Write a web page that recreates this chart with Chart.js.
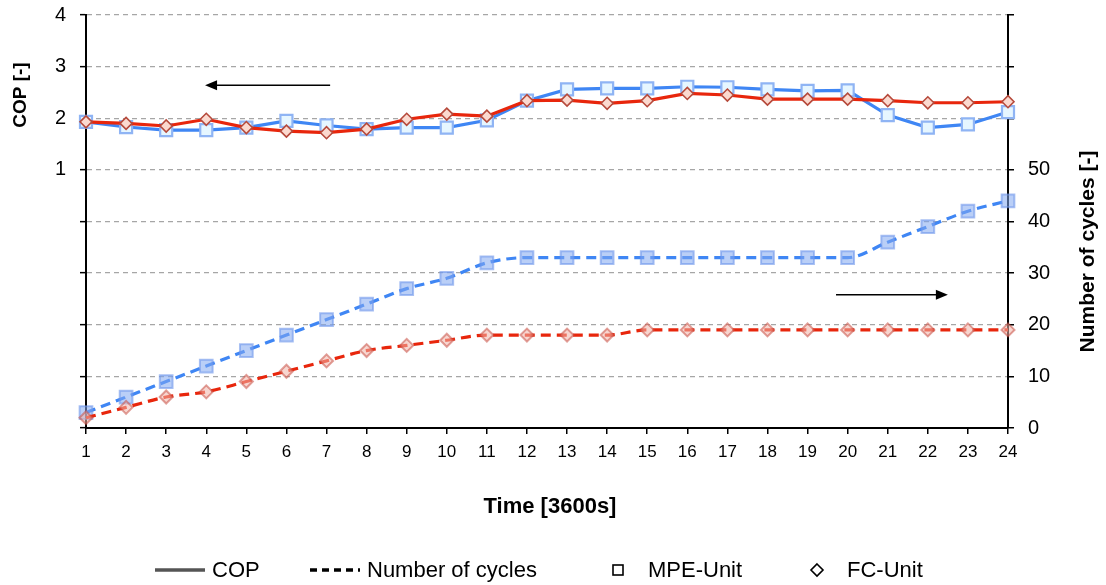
<!DOCTYPE html>
<html>
<head>
<meta charset="utf-8">
<script src="https://cdn.jsdelivr.net/npm/chart.js@4/dist/chart.umd.min.js"></script>
<style>
  html, body { margin: 0; padding: 0; background: #fff; }
  #c { display: block; }
</style>
</head>
<body>
<canvas id="c" width="1106" height="585"></canvas>
<script>
// ---------- data ----------
const timeLabels = ['1','2','3','4','5','6','7','8','9','10','11','12','13','14','15','16','17','18','19','20','21','22','23','24'];
const copMPE = [1.93,1.83,1.77,1.77,1.82,1.95,1.86,1.79,1.82,1.82,1.96,2.34,2.56,2.58,2.58,2.61,2.60,2.56,2.53,2.54,2.06,1.82,1.88,2.12];
const copFC  = [1.93,1.90,1.85,1.98,1.82,1.75,1.72,1.79,1.98,2.08,2.04,2.34,2.35,2.29,2.34,2.48,2.45,2.37,2.37,2.37,2.34,2.30,2.30,2.32];
const cyclesMPE = [3,6,9,12,15,18,21,24,27,29,32,33,33,33,33,33,33,33,33,33,36,39,42,44];
const cyclesFC  = [2,4,6,7,9,11,13,15,16,17,18,18,18,18,19,19,19,19,19,19,19,19,19,19];
const copTickMax = 4, copTickMin = -4, copShownMin = 1;
const cycTickMax = 80, cycShownMax = 50;
const xTitle = 'Time [3600s]';
const leftTitle = 'COP [-]';
const rightTitle = 'Number of cycles [-]';
const legendItems = [
  { text: 'COP', kind: 'line', dash: [] , color: '#555555' },
  { text: 'Number of cycles', kind: 'line', dash: [7,5], color: '#000000' },
  { text: 'MPE-Unit', kind: 'square' },
  { text: 'FC-Unit', kind: 'diamond' }
];
// annotation arrows: [x index, axis value]
const arrows = [
  { axis: 'y',  from: [6.09, 2.64], to: [2.97, 2.64] },
  { axis: 'y1', from: [18.71, 25.8], to: [21.5, 25.8] }
];

const FONT = '"Liberation Sans", Arial, Helvetica, sans-serif';
const BLUE = '#3f86f4';
const RED = '#e8260c';

const extras = {
  id: 'extras',
  afterDraw(chart) {
    const ctx = chart.ctx;
    const xs = chart.scales.x, yl = chart.scales.y, yr = chart.scales.y1;
    ctx.save();
    // axis titles
    ctx.fillStyle = '#000';
    ctx.textAlign = 'center';
    ctx.textBaseline = 'middle';
    ctx.font = 'bold 19px ' + FONT;
    ctx.save();
    ctx.translate(21, yl.getPixelForValue(2.45));
    ctx.rotate(-Math.PI / 2);
    ctx.fillText(leftTitle, 0, 0);
    ctx.restore();
    ctx.save();
    ctx.font = 'bold 21px ' + FONT;
    ctx.translate(1088, yr.getPixelForValue(34.2));
    ctx.rotate(-Math.PI / 2);
    ctx.fillText(rightTitle, 0, 0);
    ctx.restore();
    ctx.font = 'bold 22px ' + FONT;
    ctx.fillText(xTitle, (chart.chartArea.left + chart.chartArea.right) / 2 + 3, 507);

    // arrows
    ctx.strokeStyle = '#000';
    ctx.fillStyle = '#000';
    ctx.lineWidth = 1.5;
    arrows.forEach(a => {
      const ys = chart.scales[a.axis];
      const x1 = xs.getPixelForValue(a.from[0]), y1 = ys.getPixelForValue(a.from[1]);
      const x2 = xs.getPixelForValue(a.to[0]), y2 = ys.getPixelForValue(a.to[1]);
      const dir = Math.sign(x2 - x1);
      ctx.beginPath();
      ctx.moveTo(x1, y1);
      ctx.lineTo(x2 - dir * 10, y2);
      ctx.stroke();
      ctx.beginPath();
      ctx.moveTo(x2, y2);
      ctx.lineTo(x2 - dir * 12, y2 - 5);
      ctx.lineTo(x2 - dir * 12, y2 + 5);
      ctx.closePath();
      ctx.fill();
    });

    // legend
    ctx.font = '22px ' + FONT;
    ctx.textAlign = 'left';
    const starts = [155, 310, 612, 811];
    const ly = 570;
    legendItems.forEach((it, i) => {
      const x = starts[i];
      const symW = it.kind === 'line' ? 50 : 12;
      const gap = it.kind === 'line' ? 7 : 24;
      ctx.save();
      if (it.kind === 'line') {
        ctx.strokeStyle = it.color;
        ctx.lineWidth = 3.5;
        ctx.setLineDash(it.dash);
        ctx.beginPath();
        ctx.moveTo(x, ly);
        ctx.lineTo(x + symW, ly);
        ctx.stroke();
      } else if (it.kind === 'square') {
        ctx.strokeStyle = '#000';
        ctx.lineWidth = 1.6;
        ctx.strokeRect(x + 1, ly - 5, 10, 10);
      } else {
        ctx.strokeStyle = '#000';
        ctx.lineWidth = 1.6;
        const cx = x + 6;
        ctx.beginPath();
        ctx.moveTo(cx, ly - 6);
        ctx.lineTo(cx + 6, ly);
        ctx.lineTo(cx, ly + 6);
        ctx.lineTo(cx - 6, ly);
        ctx.closePath();
        ctx.stroke();
      }
      ctx.restore();
      ctx.fillStyle = '#000';
      ctx.textBaseline = 'middle';
      ctx.fillText(it.text, x + symW + gap, ly + 1);
    });
    ctx.restore();
  }
};

const noVPad = s => { s.paddingTop = 0; s.paddingBottom = 0; };

new Chart(document.getElementById('c'), {
  type: 'line',
  data: {
    labels: timeLabels,
    datasets: [
      { label: 'COP FC-Unit', data: copFC, yAxisID: 'y', order: 0, clip: false,
        borderColor: RED, borderWidth: 3.2, tension: 0,
        pointStyle: 'rectRot', pointRadius: 6, pointBackgroundColor: '#fbd9cf',
        pointBorderColor: '#b64a3c', pointBorderWidth: 1.6 },
      { label: 'COP MPE-Unit', data: copMPE, yAxisID: 'y', order: 1, clip: false,
        borderColor: BLUE, borderWidth: 3.2, tension: 0,
        pointStyle: 'rect', pointRadius: 8.5, pointBackgroundColor: '#e6f6ff',
        pointBorderColor: '#8fb4f4', pointBorderWidth: 2.2 },
      { label: 'Cycles FC-Unit', data: cyclesFC, yAxisID: 'y1', order: 2, clip: false,
        borderColor: RED, borderWidth: 3.2, borderDash: [10, 6], cubicInterpolationMode: 'monotone',
        pointStyle: 'rectRot', pointRadius: 6.5, pointBackgroundColor: 'rgba(240,180,170,0.55)',
        pointBorderColor: 'rgba(200,80,70,0.55)', pointBorderWidth: 2 },
      { label: 'Cycles MPE-Unit', data: cyclesMPE, yAxisID: 'y1', order: 3, clip: false,
        borderColor: BLUE, borderWidth: 3.2, borderDash: [10, 6], cubicInterpolationMode: 'monotone',
        pointStyle: 'rect', pointRadius: 9, pointBackgroundColor: 'rgba(130,168,240,0.55)',
        pointBorderColor: 'rgba(110,150,235,0.6)', pointBorderWidth: 2 }
    ]
  },
  options: {
    responsive: false,
    animation: false,
    devicePixelRatio: 1,
    layout: { padding: { top: 15, right: 0, left: 0, bottom: 40 } },
    plugins: { legend: { display: false }, tooltip: { enabled: false } },
    scales: {
      x: {
        type: 'category',
        offset: false,
        grid: { drawOnChartArea: false, drawTicks: true, tickLength: 6, color: '#000', lineWidth: 1.5 },
        border: { color: '#000', width: 2 },
        ticks: { color: '#000', font: { family: FONT, size: 17 }, padding: 8, maxRotation: 0, autoSkip: false },
        afterFit: s => { s.height = 117; s.paddingLeft = 0; s.paddingRight = 0; }
      },
      y: {
        position: 'left',
        min: copTickMin, max: copTickMax,
        grid: { color: '#a6a6a6', lineWidth: 1.3, tickColor: '#000', tickLength: 6, tickWidth: 1.5 },
        border: { color: '#000', width: 2, dash: [5, 4] },
        ticks: { stepSize: 1, color: '#000', font: { family: FONT, size: 20 }, padding: 14,
                 callback: v => (v >= copShownMin ? String(v) : '') },
        afterFit: s => { s.width = 86; noVPad(s); }
      },
      y1: {
        position: 'right',
        min: 0, max: cycTickMax,
        grid: { drawOnChartArea: false, color: '#000', tickLength: 6, lineWidth: 1.5 },
        border: { color: '#000', width: 2 },
        ticks: { stepSize: 10, color: '#000', font: { family: FONT, size: 20 }, padding: 14,
                 callback: v => (v <= cycShownMax ? String(v) : '') },
        afterFit: s => { s.width = 98; noVPad(s); }
      }
    }
  },
  plugins: [extras]
});
</script>
</body>
</html>
